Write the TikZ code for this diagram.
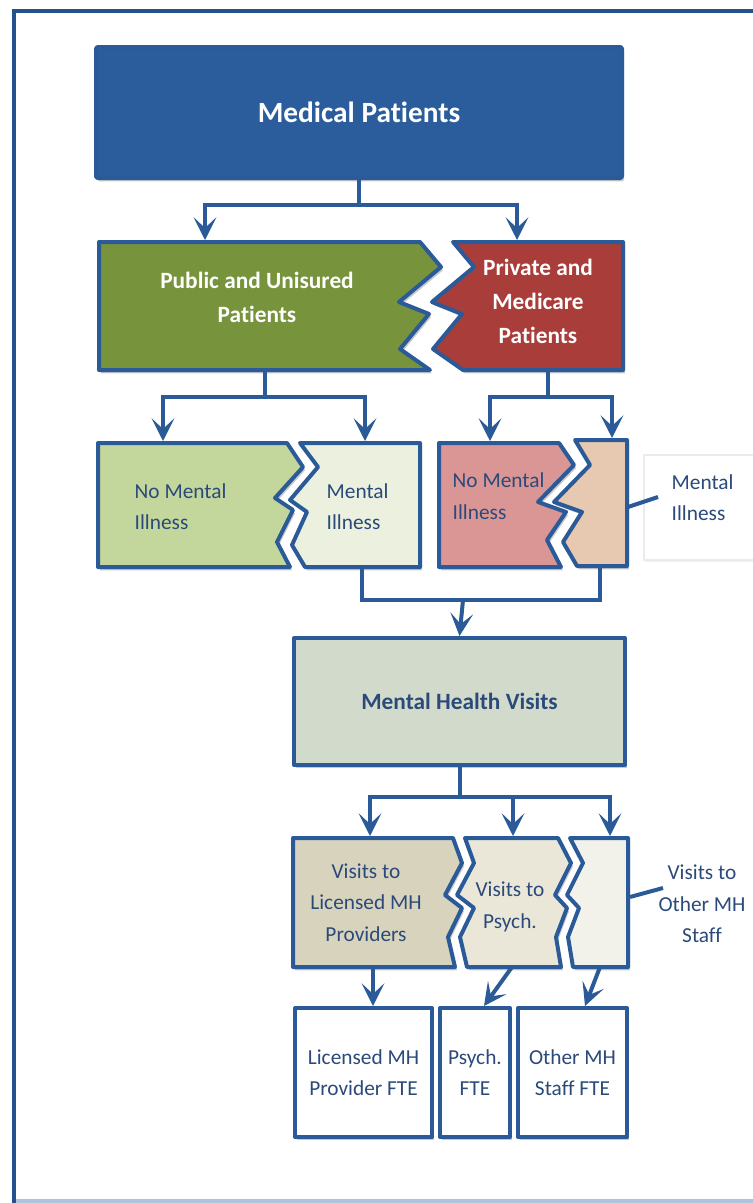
\documentclass[tikz,border=0pt]{standalone}
\usepackage{fontspec}
\setmainfont{Carlito}[Ligatures=NoCommon]
\usetikzlibrary{arrows.meta,shadows}
\definecolor{frameblue}{HTML}{24518C}
\definecolor{framelight}{HTML}{AFC3DF}
\definecolor{lineblue}{HTML}{2A5A98}
\definecolor{medblue}{HTML}{2B5C9C}
\definecolor{txtblue}{HTML}{2B4A7A}
\definecolor{cgreen}{HTML}{77933C}
\definecolor{cred}{HTML}{A93D3A}
\definecolor{clgreen}{HTML}{C3D69B}
\definecolor{cvlgreen}{HTML}{EBF1DE}
\definecolor{cpink}{HTML}{D99694}
\definecolor{cpeach}{HTML}{E6C9B0}
\definecolor{csage}{HTML}{D2DBCB}
\definecolor{ctan}{HTML}{D8D3BC}
\definecolor{cbeige}{HTML}{EAE7D8}
\definecolor{cpale}{HTML}{F2F1EA}
\begin{document}
\begin{tikzpicture}[x=0.75pt,y=-0.75pt,
  shad/.style={drop shadow={shadow xshift=1.5pt,shadow yshift=-2.5pt,opacity=0.3,fill=black!70}},
  notchbox/.style={draw=lineblue,line width=3pt,line join=round,shad},
  rectbox/.style={notchbox,rectangle,inner sep=0pt,align=center},
  conn/.style={draw=lineblue,line width=3pt},
  arr/.style={conn,-{Stealth[width=17pt,length=17pt,inset=8pt]}},
  wtxt/.style={text=white,font=\bfseries\fontsize{17.5}{25.5}\selectfont,align=center},
  btxt/.style={text=txtblue,font=\fontsize{16}{23.5}\selectfont},
]
\useasboundingbox (0,0) rectangle (753,1203);
% frame
\draw[framelight,line width=2.5pt] (14,1201) -- (760,1201);
\draw[frameblue,line width=3.5pt] (760,11) -- (14,11) -- (14,1203);

% Medical patients
\node[rectbox,fill=medblue,minimum width=394.5pt,minimum height=98.25pt,rounded corners=1.5pt,
  text=white,font=\bfseries\fontsize{22}{26}\selectfont] (med) at (359,112.5) {Medical Patients};

% row 1 shapes
\path[notchbox,fill=cgreen] (99,242) -- (420,242) -- (441,267) -- (399,302) -- (429,314) -- (400,349) -- (430,370) -- (99,370) -- cycle;
\path[notchbox,fill=cred] (453,242) -- (623,242) -- (623,370) -- (463,370) -- (433,349) -- (462,314) -- (432,302) -- (474,267) -- cycle;
\node[wtxt] (pubt) at (257,297) {Public and Unisured\\Patients};
\node[wtxt] (prit) at (538,301) {Private and\\Medicare\\Patients};
\coordinate (pubN) at (205,240);
\coordinate (priN) at (517,240);
\coordinate (pubS) at (265,370);
\coordinate (priS) at (548,370);

% row 2 shapes
\path[notchbox,fill=clgreen] (98,443) -- (287,443) -- (303,467) -- (275,498) -- (293,510) -- (277,542) -- (290,567) -- (98,567) -- cycle;
\path[notchbox,fill=cvlgreen] (300,443) -- (420,443) -- (420,567) -- (305,567) -- (292,545) -- (307,512) -- (290,500) -- (318,467) -- cycle;
\path[notchbox,fill=cpink] (439,443) -- (559,443) -- (574,465) -- (538,502) -- (566,512) -- (547,540) -- (561,567) -- (439,567) -- cycle;
\path[notchbox,fill=cpeach] (575,440) -- (627,440) -- (627,566) -- (577,566) -- (563,542) -- (582,512) -- (554,502) -- (590,465) -- cycle;
\path[draw=black!8,fill=white,line width=1pt,drop shadow={shadow xshift=1pt,shadow yshift=-1.5pt,opacity=0.12}] (644,455) rectangle (770,560);
\node[btxt,align=left,anchor=west] (nm1) at (130,506.5) {No Mental\\Illness};
\node[btxt,align=left,anchor=west] (mi1) at (322,506.5) {Mental\\Illness};
\node[btxt,align=left,anchor=west] (nm2) at (448,496) {No Mental\\Illness};
\node[btxt,align=left,anchor=west] (mi2) at (667,497.5) {Mental\\Illness};
\coordinate (lgN) at (163,441);
\coordinate (mlN) at (365,441);
\coordinate (pkN) at (490,441);
\coordinate (pcN) at (612,438);
\coordinate (mlS) at (362,567);
\coordinate (pcS) at (600,566);
\coordinate (pcE) at (628,507);
\coordinate (mi2W) at (658,497);
\coordinate (jm) at (463,600);

% row 3
\node[rectbox,fill=csage,minimum width=248.25pt,minimum height=95.25pt,
  text=txtblue,font=\bfseries\fontsize{17.5}{22}\selectfont] (mhv) at (459.5,701.5) {Mental Health Visits};

% row 4 shapes
\path[notchbox,fill=ctan] (293,838) -- (453,838) -- (462,863) -- (445,895) -- (462,908) -- (448,937) -- (455,967) -- (293,967) -- cycle;
\path[notchbox,fill=cbeige] (465,838) -- (558,838) -- (571,863) -- (555,895) -- (567,908) -- (556,937) -- (561,967) -- (467,967) -- (460,937) -- (474,908) -- (457,895) -- (474,863) -- cycle;
\path[notchbox,fill=cpale] (570,838) -- (628,838) -- (628,967) -- (573,967) -- (568,937) -- (579,908) -- (567,895) -- (583,863) -- cycle;
\node[btxt,align=center] (vl) at (366,902.5) {Visits to\\Licensed MH\\Providers};
\node[btxt,align=center] (vp) at (510,907) {Visits to\\Psych.};
\node[btxt,align=center] (vo) at (702,904) {Visits to\\Other MH\\Staff};
\coordinate (tanN) at (370,836);
\coordinate (psN) at (513,836);
\coordinate (thN) at (610,836);
\coordinate (tanS) at (373,967);
\coordinate (psS) at (512,967);
\coordinate (thS) at (600,967);
\coordinate (thE) at (630,897);
\coordinate (voW) at (663,888);

% row 5 boxes
\node[rectbox,fill=white,minimum width=102.75pt,minimum height=96.75pt,btxt] (f1) at (363.5,1072.5) {Licensed MH\\Provider FTE};
\node[rectbox,fill=white,minimum width=52.5pt,minimum height=96.75pt,btxt] (f2) at (475,1072.5) {Psych.\\FTE};
\node[rectbox,fill=white,minimum width=81.75pt,minimum height=96.75pt,btxt] (f3) at (572.5,1072.5) {Other MH\\Staff FTE};
\coordinate (f2in) at (484,1006);
\coordinate (f3in) at (585,1006);

% connectors
\draw[arr] (med.south) -- ++(0,25) -| (pubN);
\draw[arr] (med.south) -- ++(0,25) -| (priN);
\draw[arr] (pubS) -- ++(0,27) -| (lgN);
\draw[arr] (pubS) -- ++(0,27) -| (mlN);
\draw[arr] (priS) -- ++(0,27) -| (pkN);
\draw[arr] (priS) -- ++(0,27) -| (pcN);
\draw[conn,line join=miter] (mlS) -- ++(0,33) -| (pcS);
\draw[arr] (jm) -- (mhv.north);
\draw[conn] (pcE) -- (mi2W);
\draw[arr] (mhv.south) -- ++(0,30) -| (tanN);
\draw[arr] (mhv.south) -- ++(0,30) -| (psN);
\draw[arr] (mhv.south) -- ++(0,30) -| (thN);
\draw[conn] (thE) -- (voW);
\draw[arr] (tanS) -- (tanS |- f1.north);
\draw[arr] (psS) -- (f2in);
\draw[arr] (thS) -- (f3in);
\end{tikzpicture}
\end{document}
